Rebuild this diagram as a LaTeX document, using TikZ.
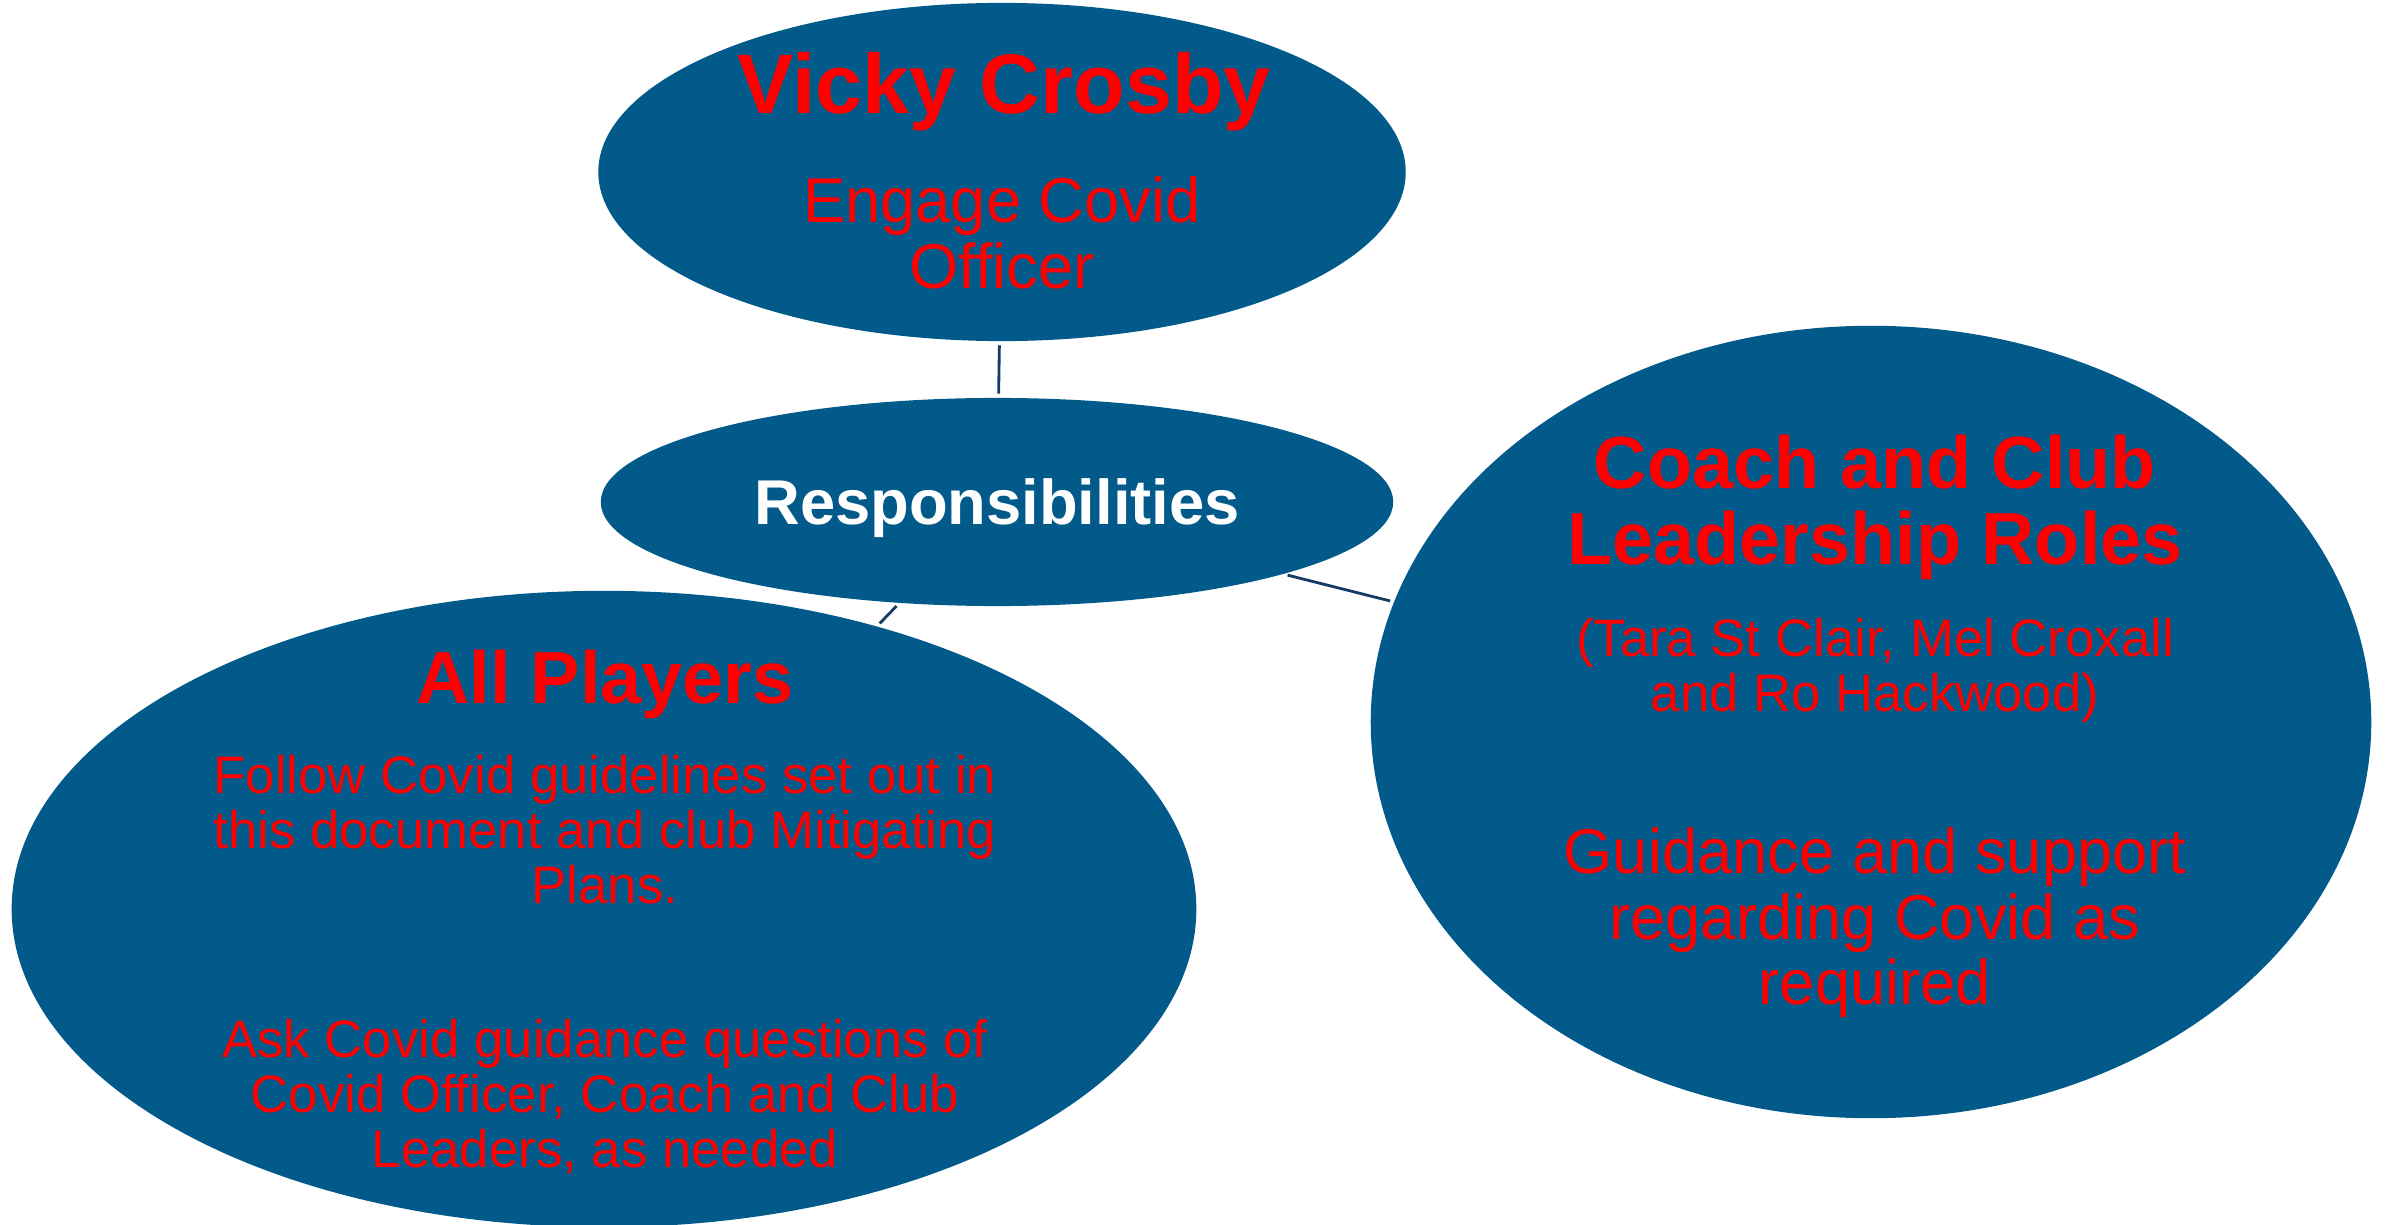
\documentclass[tikz,border=0pt]{standalone}
\usepackage{fontspec}
\setmainfont{Liberation Sans}
\usetikzlibrary{shapes.geometric}
\definecolor{bubbleblue}{RGB}{2,90,139}
\definecolor{linkblue}{RGB}{18,60,100}
\definecolor{alertred}{RGB}{255,0,0}

\begin{document}
\begin{tikzpicture}[x=0.01cm, y=-0.01cm,
    bubble/.style={ellipse, fill=bubbleblue, inner sep=0pt},
    link/.style={draw=linkblue, line width=0.8pt, shorten <=1pt, shorten >=1pt},
    nametext/.style={text=alertred, align=center, font=\fontsize{24}{25}\selectfont\bfseries},
    headtext/.style={text=alertred, align=center, font=\fontsize{21}{21.6}\selectfont\bfseries},
    bodytext/.style={text=alertred, align=center, font=\fontsize{18}{18.6}\selectfont},
    smalltext/.style={text=alertred, align=center, font=\fontsize{15}{15.6}\selectfont}]
                    % Frame
                    \useasboundingbox (0,0) rectangle (2387,1225);
                    % Ellipses
                    \node [bubble, minimum width=8.07cm, minimum height=3.38cm] (officer) at (1002,172) {};
                    \node [bubble, minimum width=7.92cm, minimum height=2.08cm] (resp) at (997,502) {};
                    \node [bubble, minimum width=11.84cm, minimum height=6.36cm] (players) at (604,909) {};
                    \node [bubble, minimum width=10.00cm, minimum height=7.92cm] (coach) at (1871,722) {};
                    % Connectors
                    \draw [link] (officer) -- (resp);
                    \draw [link] (resp) -- (players);
                    \draw [link] (resp) -- (coach);
                    % Texts
                    \node [nametext] (officername) at (1004,92) {Vicky Crosby};
                    \node [bodytext] (officerrole) at (1002,233) {Engage Covid\\Officer};
                    \node [text=white, font=\fontsize{18}{18.6}\selectfont\bfseries] (resptitle) at (997,508) {Responsibilities};
                    \node [headtext] (playerstitle) at (605,684) {All Players};
                    \node [smalltext] (playersfollow) at (605,830) {Follow Covid guidelines set out in\\this document and club Mitigating\\Plans.};
                    \node [smalltext] (playersask) at (605,1097) {Ask Covid guidance questions of\\Covid Officer, Coach and Club\\Leaders, as needed};
                    \node [headtext] (coachtitle) at (1875,507) {Coach and Club\\Leadership Roles};
                    \node [smalltext] (coachnames) at (1875,670) {(Tara St Clair, Mel Croxall\\and Ro Hackwood)};
                    \node [bodytext] (coachrole) at (1875,923) {Guidance and support\\regarding Covid as\\required};
                \end{tikzpicture}
\end{document}
